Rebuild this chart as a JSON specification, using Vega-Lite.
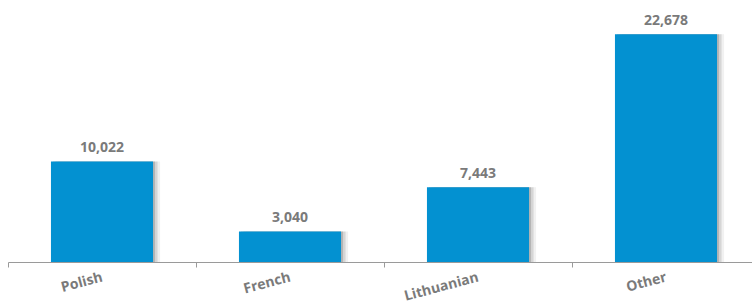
{
  "$schema": "https://vega.github.io/schema/vega-lite/v6.json",
  "width": 744,
  "height": 251,
  "autosize": {"type": "none"},
  "padding": {"left": 8, "top": 11, "right": 0, "bottom": 42},
  "background": "white",
  "config": {"view": {"stroke": null}, "font": "Open Sans"},
  "data": {"values": [
    {"lang": "Polish", "count": 10022},
    {"lang": "French", "count": 3040},
    {"lang": "Lithuanian", "count": 7443},
    {"lang": "Other", "count": 22678}
  ]},
  "encoding": {
    "x": {
      "field": "lang", "type": "nominal", "sort": null,
      "scale": {"paddingInner": 0, "paddingOuter": 0, "range": [0, 752]},
      "axis": {
        "title": null,
        "tickBand": "extent",
        "domainColor": "#9a9a9a",
        "tickColor": "#9a9a9a",
        "tickSize": 5,
        "labelAngle": -15,
        "labelAlign": "right",
        "labelBaseline": "top",
        "labelPadding": 3,
        "labelOffset": -2,
        "labelFont": "Open Sans",
        "labelFontWeight": "bold",
        "labelFontSize": 14,
        "labelColor": "#7a7a7a"
      }
    },
    "y": {
      "field": "count", "type": "quantitative",
      "scale": {"domain": [0, 25000], "nice": false},
      "axis": null
    }
  },
  "layer": [
    {"mark": {"type": "bar", "width": {"band": 0.543}, "color": "#888888", "opacity": 0.12, "xOffset": 7}},
    {"mark": {"type": "bar", "width": {"band": 0.543}, "color": "#888888", "opacity": 0.25, "xOffset": 4.5}},
    {"mark": {"type": "bar", "width": {"band": 0.543}, "color": "#777777", "opacity": 0.35, "xOffset": 2}},
    {"mark": {"type": "bar", "width": {"band": 0.543}, "color": "#0391d1"}},
    {
      "mark": {"type": "text", "baseline": "alphabetic", "dy": -9, "font": "Open Sans", "fontWeight": "bold", "fontSize": 14, "color": "#7a7a7a"},
      "encoding": {"text": {"field": "count", "type": "quantitative", "format": ",d"}}
    }
  ]
}
